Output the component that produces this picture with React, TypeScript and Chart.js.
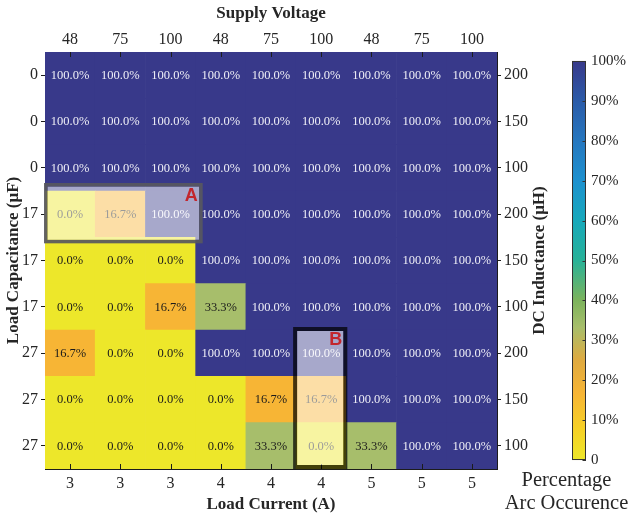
import React, { useEffect, useRef } from 'react';
import { Chart, registerables } from 'chart.js';

Chart.register(...registerables);

// ---------- data ----------
const loadCurrent = ['3', '3', '3', '4', '4', '4', '5', '5', '5'];
const supplyVoltage = ['48', '75', '100', '48', '75', '100', '48', '75', '100'];
const loadCapacitance = ['0', '0', '0', '17', '17', '17', '27', '27', '27'];
const dcInductance = ['200', '150', '100', '200', '150', '100', '200', '150', '100'];

// percentage arc occurrence, rows listed top to bottom
const row0 = [100, 100, 100, 100, 100, 100, 100, 100, 100];
const row1 = [100, 100, 100, 100, 100, 100, 100, 100, 100];
const row2 = [100, 100, 100, 100, 100, 100, 100, 100, 100];
const row3 = [0, 16.7, 100, 100, 100, 100, 100, 100, 100];
const row4 = [0, 0, 0, 100, 100, 100, 100, 100, 100];
const row5 = [0, 0, 16.7, 33.3, 100, 100, 100, 100, 100];
const row6 = [16.7, 0, 0, 100, 100, 100, 100, 100, 100];
const row7 = [0, 0, 0, 0, 16.7, 16.7, 100, 100, 100];
const row8 = [0, 0, 0, 0, 33.3, 0, 33.3, 100, 100];
const rows = [row0, row1, row2, row3, row4, row5, row6, row7, row8];

const colorbarTicks = [0, 10, 20, 30, 40, 50, 60, 70, 80, 90, 100];

const highlightA = { label: 'A', cols: [0, 2], rows: [3, 3] };
const highlightB = { label: 'B', cols: [5, 5], rows: [6, 8] };

// ---------- styles ----------
const FONT = '"Liberation Serif", "Times New Roman", serif';
const tickColor = '#262626';
const frameColor = '#1c1c1c';
const gridColor = 'rgba(140,140,140,0.22)';

const boxStyleA = { pad: { l: 1, t: 8, r: 7, b: 6 }, stroke: 'rgba(88,88,94,0.92)', lw: 3.5 };
const boxStyleB = { pad: { l: 3, t: 3, r: 1, b: 0 }, stroke: 'rgba(0,0,0,0.72)', lw: 4 };

const cmapStops: [number, string][] = [
  [0, '#ede72a'],
  [8, '#f6d026'],
  [16.7, '#f7b535'],
  [25, '#dfaa40'],
  [33.3, '#a7be6b'],
  [40, '#7cb35c'],
  [50, '#28b298'],
  [60, '#17a9bb'],
  [70, '#1d91cf'],
  [80, '#2677bf'],
  [90, '#2b5ba8'],
  [100, '#38398a'],
];

function hexToRgb(h: string) {
  const n = parseInt(h.slice(1), 16);
  return [(n >> 16) & 255, (n >> 8) & 255, n & 255];
}
function colorAt(v: number) {
  for (let i = 1; i < cmapStops.length; i++) {
    const [v1, c1] = cmapStops[i];
    const [v0, c0] = cmapStops[i - 1];
    if (v <= v1) {
      const t = (v - v0) / (v1 - v0);
      const a = hexToRgb(c0), b = hexToRgb(c1);
      const m = a.map((x, k) => Math.round(x + (b[k] - x) * t));
      return `rgb(${m[0]},${m[1]},${m[2]})`;
    }
  }
  return cmapStops[cmapStops.length - 1][1];
}

const rowCenters = rows.map((_, i) => i + 0.5);

function boxRect(chart: any, h: any, st: any) {
  const xs = chart.scales.x, ys = chart.scales.y;
  const half = (xs.getPixelForValue(1) - xs.getPixelForValue(0)) / 2;
  const left = xs.getPixelForValue(h.cols[0]) - half - st.pad.l;
  const right = xs.getPixelForValue(h.cols[1]) + half + st.pad.r;
  const top = ys.getPixelForValue(rows.length - h.rows[0]) - st.pad.t;
  const bottom = ys.getPixelForValue(rows.length - 1 - h.rows[1]) + st.pad.b;
  return { left, right, top, bottom };
}

const heatPlugin = {
  id: 'heatText',
  afterDatasetsDraw(chart: any) {
    const ctx = chart.ctx;
    const xs = chart.scales.x, ys = chart.scales.y;
    ctx.save();
    ctx.font = `12.5px ${FONT}`;
    ctx.textAlign = 'center';
    ctx.textBaseline = 'middle';
    rows.forEach((row, r) => {
      row.forEach((v, c) => {
        const px = xs.getPixelForValue(c);
        const py = ys.getPixelForValue(rows.length - 0.5 - r);
        ctx.fillStyle = v >= 60 ? '#eeeef6' : '#1a1a1a';
        ctx.fillText(v.toFixed(1) + '%', px, py + 0.5);
      });
    });
    ctx.restore();
  },
  afterDraw(chart: any) {
    const ctx = chart.ctx;
    const xs = chart.scales.x;
    const area = chart.chartArea;
    ctx.save();
    // inward tick marks on top & bottom
    ctx.strokeStyle = frameColor;
    ctx.lineWidth = 1;
    for (let c = 0; c < loadCurrent.length; c++) {
      const x = Math.round(xs.getPixelForValue(c)) + 0.5;
      ctx.beginPath();
      ctx.moveTo(x, area.bottom);
      ctx.lineTo(x, area.bottom - 5);
      ctx.moveTo(x, area.top);
      ctx.lineTo(x, area.top + 5);
      ctx.stroke();
    }

    // highlight boxes
    const boxes: [any, any][] = [[highlightA, boxStyleA], [highlightB, boxStyleB]];
    boxes.forEach(([h, st]) => {
      const b = boxRect(chart, h, st);
      const inset = st.lw / 2;
      ctx.fillStyle = 'rgba(255,255,255,0.56)';
      ctx.fillRect(b.left + st.lw, b.top + st.lw, b.right - b.left - 2 * st.lw, b.bottom - b.top - 2 * st.lw);
      ctx.strokeStyle = st.stroke;
      ctx.lineWidth = st.lw;
      ctx.strokeRect(b.left + inset, b.top + inset, b.right - b.left - st.lw, b.bottom - b.top - st.lw);
      ctx.fillStyle = '#c3262d';
      ctx.font = 'bold 18px "Liberation Sans", Arial, sans-serif';
      ctx.textAlign = 'center';
      ctx.textBaseline = 'middle';
      ctx.fillText(h.label, b.right - 11.5, b.top + 13.5);
    });

    // right axis title (bottom-to-top)
    ctx.save();
    ctx.translate(area.right + 43, (area.top + area.bottom) / 2);
    ctx.rotate(-Math.PI / 2);
    ctx.fillStyle = tickColor;
    ctx.font = `bold 17px ${FONT}`;
    ctx.textAlign = 'center';
    ctx.textBaseline = 'middle';
    ctx.fillText('DC Inductance (μH)', 0, 0);
    ctx.restore();

    // colorbar
    const cb = chart.scales.cb;
    const x0 = cb.left;
    const w = 14;
    const yTop = cb.getPixelForValue(100);
    const yBot = cb.getPixelForValue(0);
    const grad = ctx.createLinearGradient(0, yBot, 0, yTop);
    cmapStops.forEach(([v, c]) => grad.addColorStop(v / 100, c));
    ctx.fillStyle = grad;
    ctx.fillRect(x0, yTop, w, yBot - yTop);
    ctx.strokeStyle = '#333';
    ctx.lineWidth = 1;
    ctx.strokeRect(x0 + 0.5, yTop + 0.5, w - 1, yBot - yTop - 1);
    colorbarTicks.forEach((v) => {
      const y = Math.round(cb.getPixelForValue(v)) + 0.5;
      ctx.beginPath();
      ctx.moveTo(x0 + w, y);
      ctx.lineTo(x0 + w - 3.5, y);
      ctx.stroke();
    });

    // colorbar title
    ctx.fillStyle = tickColor;
    ctx.font = `20.5px ${FONT}`;
    ctx.textAlign = 'center';
    ctx.textBaseline = 'middle';
    ctx.fillText('Percentage', x0 - 5.5, area.bottom + 12);
    ctx.fillText('Arc Occurence', x0 - 5.5, area.bottom + 35);
    ctx.restore();
  },
};

export default function App() {
  const ref = useRef<HTMLCanvasElement>(null);
  useEffect(() => {
    const canvas = ref.current;
    if (!canvas) return;
    Chart.defaults.font.family = FONT;
    const datasets = rows
      .slice()
      .reverse()
      .map((row, i) => ({
        label: 'row' + (rows.length - 1 - i),
        data: row.map(() => 1),
        backgroundColor: row.map((v) => colorAt(v)),
        borderWidth: 0,
        categoryPercentage: 1,
        barPercentage: 1,
      }));

    const chart = new Chart(canvas, {
      type: 'bar',
      data: { labels: loadCurrent, datasets },
      options: {
        animation: false,
        responsive: true,
        maintainAspectRatio: false,
        layout: { padding: 0 },
        plugins: { legend: { display: false }, tooltip: { enabled: false } },
        scales: {
          x: {
            type: 'category',
            position: 'bottom',
            stacked: true,
            offset: true,
            z: 1,
            grid: { display: true, offset: false, color: gridColor, drawTicks: false },
            border: { display: true, color: frameColor, width: 1 },
            ticks: { padding: 5, color: tickColor, font: { size: 16 }, autoSkip: false, maxRotation: 0 },
            title: {
              display: true,
              text: 'Load Current (A)',
              color: tickColor,
              font: { size: 17, weight: 'bold' },
              padding: { top: 0, bottom: 2 },
            },
            afterFit: (s: any) => {
              s.height = 48;
            },
          },
          x2: {
            type: 'category',
            position: 'top',
            labels: supplyVoltage,
            offset: true,
            grid: { display: false, drawTicks: false },
            border: { display: true, color: frameColor, width: 1 },
            ticks: { padding: 3, color: tickColor, font: { size: 16 }, autoSkip: false, maxRotation: 0 },
            title: {
              display: true,
              text: 'Supply Voltage',
              color: tickColor,
              font: { size: 17, weight: 'bold' },
              padding: { top: 3, bottom: 0 },
            },
            afterFit: (s: any) => {
              s.height = 52;
            },
          },
          y: {
            type: 'linear',
            position: 'left',
            stacked: true,
            min: 0,
            max: rows.length,
            z: 1,
            afterBuildTicks: (s: any) => {
              s.ticks = rowCenters.map((v) => ({ value: v }));
            },
            grid: { color: gridColor, tickColor: frameColor, tickLength: 4, drawTicks: true },
            border: { display: true, color: frameColor, width: 1 },
            ticks: {
              padding: 3,
              color: tickColor,
              font: { size: 16 },
              autoSkip: false,
              callback: (v: any) => loadCapacitance[Math.round(rows.length - 0.5 - v)],
            },
            title: {
              display: true,
              text: 'Load Capacitance (μF)',
              color: tickColor,
              font: { size: 17, weight: 'bold' },
              padding: { top: 3, bottom: 0 },
            },
            afterFit: (s: any) => {
              s.width = 45;
            },
          },
          y2: {
            type: 'linear',
            position: 'right',
            min: 0,
            max: rows.length,
            afterBuildTicks: (s: any) => {
              s.ticks = rowCenters.map((v) => ({ value: v }));
            },
            grid: { drawOnChartArea: false, tickColor: frameColor, tickLength: 4, drawTicks: true },
            border: { display: true, color: frameColor, width: 1 },
            ticks: {
              padding: 3,
              color: tickColor,
              font: { size: 16 },
              autoSkip: false,
              callback: (v: any) => dcInductance[Math.round(rows.length - 0.5 - v)],
            },
            afterFit: (s: any) => {
              s.width = 75;
            },
          },
          cb: {
            type: 'linear',
            position: 'right',
            weight: 1,
            min: -2.25,
            max: 102.25,
            afterBuildTicks: (s: any) => {
              s.ticks = colorbarTicks.map((v) => ({ value: v }));
            },
            grid: { display: false, drawTicks: false },
            border: { display: false },
            ticks: {
              padding: 19,
              color: tickColor,
              font: { size: 15 },
              autoSkip: false,
              callback: (v: any) => (v === 0 ? '0' : v + '%'),
            },
            afterFit: (s: any) => {
              s.width = 57;
            },
          },
        } as any,
      },
      plugins: [heatPlugin],
    });
    return () => chart.destroy();
  }, []);

  return (
    <div style={{ position: 'fixed', left: 0, top: 0, width: 629, height: 517, background: '#fff' }}>
      <canvas ref={ref} />
    </div>
  );
}
